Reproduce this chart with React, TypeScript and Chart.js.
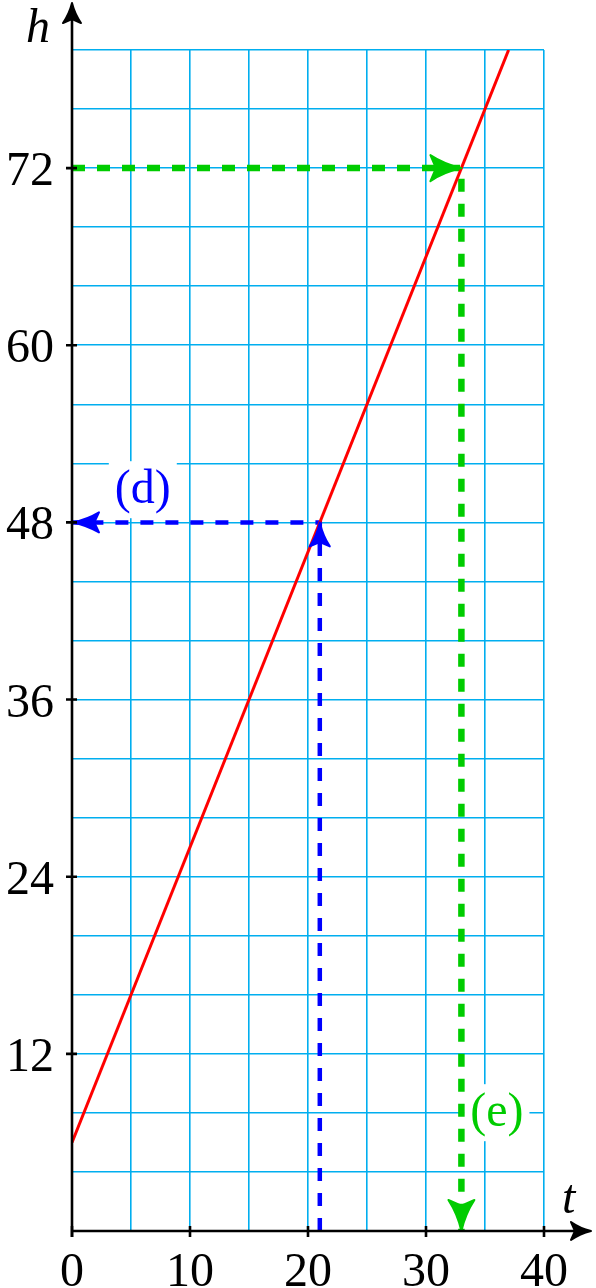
import React, { useEffect, useRef } from "react";
import { Chart, registerables } from "chart.js";

Chart.register(...registerables);

// Data
const lineT = [0, 37];
const lineH = [6, 80];
const dT = [21, 21, 0];
const dH = [0, 48, 48];
const eT = [0, 33, 33];
const eH = [72, 72, 0];
const xTickLabels = [0, 10, 20, 30, 40];
const yTickLabels = [12, 24, 36, 48, 60, 72];
const dLabel = "(d)";
const eLabel = "(e)";
const dLabelPos = { t: 6, h: 49.3 };
const eLabelPos = { t: 36, h: 7.1 };

const GRID = "#00AEEF";
const BLUE = "#0000FF";
const GREEN = "#00CC00";
const SERIF = '"Liberation Serif", "DejaVu Serif", serif';

function drawArrow(
  ctx: CanvasRenderingContext2D,
  x: number,
  y: number,
  angle: number,
  L: number,
  W: number,
  color: string,
  notch = 0.18
) {
  ctx.save();
  ctx.translate(x, y);
  ctx.rotate(angle);
  ctx.beginPath();
  ctx.moveTo(0, 0);
  ctx.quadraticCurveTo(-0.55 * L, 0.3 * W, -L, W);
  ctx.lineTo(-L * (1 - notch), 0);
  ctx.lineTo(-L, -W);
  ctx.quadraticCurveTo(-0.55 * L, -0.3 * W, 0, 0);
  ctx.closePath();
  ctx.fillStyle = color;
  ctx.strokeStyle = color;
  ctx.lineJoin = "round";
  ctx.lineWidth = 2;
  ctx.fill();
  ctx.stroke();
  ctx.restore();
}

const overlay = {
  id: "overlay",
  beforeDatasetsDraw(chart: any) {
    const ctx = chart.ctx as CanvasRenderingContext2D;
    const xs = chart.scales.x;
    const ys = chart.scales.y;
    ctx.save();
    ctx.font = `48px ${SERIF}`;
    ctx.textAlign = "center";
    ctx.textBaseline = "alphabetic";
    const labels: [string, { t: number; h: number }, string][] = [
      [dLabel, dLabelPos, BLUE],
      [eLabel, eLabelPos, GREEN],
    ];
    for (const [txt, pos, col] of labels) {
      const px = xs.getPixelForValue(pos.t);
      const py = ys.getPixelForValue(pos.h);
      const w = ctx.measureText(txt).width;
      ctx.fillStyle = "#ffffff";
      ctx.fillRect(px - w / 2 - 6, py - 42, w + 12, 57);
      ctx.fillStyle = col;
      ctx.fillText(txt, px, py);
    }
    ctx.restore();
  },
  afterDatasetsDraw(chart: any) {
    const ctx = chart.ctx as CanvasRenderingContext2D;
    const xs = chart.scales.x;
    const ys = chart.scales.y;
    const x0 = xs.getPixelForValue(0);
    const y0 = ys.getPixelForValue(0);
    ctx.save();

    // annotation arrowheads
    drawArrow(ctx, xs.getPixelForValue(dT[1]), ys.getPixelForValue(dH[1]), -Math.PI / 2, 24, 10, BLUE);
    drawArrow(ctx, xs.getPixelForValue(dT[2]) + 1, ys.getPixelForValue(dH[2]), Math.PI, 26, 10, BLUE);
    drawArrow(ctx, xs.getPixelForValue(eT[1]), ys.getPixelForValue(eH[1]), 0, 31, 13, GREEN);
    drawArrow(ctx, xs.getPixelForValue(eT[2]), ys.getPixelForValue(eH[2]), Math.PI / 2, 31, 13, GREEN);

    // axes
    ctx.strokeStyle = "#000";
    ctx.lineWidth = 2.6;
    ctx.lineCap = "butt";
    ctx.beginPath();
    ctx.moveTo(x0, y0 + 6);
    ctx.lineTo(x0, 12);
    ctx.moveTo(x0 - 1.3, y0);
    ctx.lineTo(582, y0);
    ctx.stroke();
    drawArrow(ctx, x0, 3, -Math.PI / 2, 20, 9, "#000", 0.2);
    drawArrow(ctx, 591, y0, 0, 20, 9, "#000", 0.2);

    // tick marks
    ctx.lineWidth = 2.6;
    ctx.beginPath();
    for (const v of xTickLabels) {
      const px = xs.getPixelForValue(v);
      ctx.moveTo(px, y0 - 5);
      ctx.lineTo(px, y0 + 6);
    }
    for (const v of yTickLabels) {
      const py = ys.getPixelForValue(v);
      ctx.moveTo(x0 - 6, py);
      ctx.lineTo(x0 + 5, py);
    }
    ctx.stroke();

    // tick labels
    ctx.fillStyle = "#000";
    ctx.font = `48px ${SERIF}`;
    ctx.textBaseline = "alphabetic";
    ctx.textAlign = "center";
    for (const v of xTickLabels) {
      ctx.fillText(String(v), xs.getPixelForValue(v), y0 + 55);
    }
    ctx.textAlign = "right";
    for (const v of yTickLabels) {
      ctx.fillText(String(v), x0 - 18, ys.getPixelForValue(v) + 17);
    }

    // axis titles
    ctx.font = `italic 48px ${SERIF}`;
    ctx.textAlign = "left";
    ctx.fillText("h", 26, 42);
    ctx.fillText("t", 562, 1213);
    ctx.restore();
  },
};

export default function App() {
  const ref = useRef<HTMLCanvasElement | null>(null);
  useEffect(() => {
    if (!ref.current) return;
    const chart = new Chart(ref.current, {
      type: "line",
      data: {
        datasets: [
          {
            label: "h",
            data: lineT.map((t, i) => ({ x: t, y: lineH[i] })),
            borderColor: "#FF0000",
            borderWidth: 3,
            pointRadius: 0,
            tension: 0,
          },
          {
            label: "d",
            data: dT.map((t, i) => ({ x: t, y: dH[i] })),
            borderColor: BLUE,
            borderWidth: 4.5,
            borderDash: [13, 12],
            pointRadius: 0,
            tension: 0,
          },
          {
            label: "e",
            data: eT.map((t, i) => ({ x: t, y: eH[i] })),
            borderColor: GREEN,
            borderWidth: 6.5,
            borderDash: [13, 12],
            pointRadius: 0,
            tension: 0,
          },
        ],
      },
      options: {
        animation: false,
        responsive: true,
        maintainAspectRatio: false,
        layout: { padding: { left: 72, right: 52, top: 50, bottom: 57 } },
        plugins: { legend: { display: false }, tooltip: { enabled: false } },
        scales: {
          x: {
            type: "linear",
            min: 0,
            max: 40,
            ticks: { stepSize: 5, display: false },
            grid: { color: GRID, lineWidth: 1.6, drawTicks: false },
            border: { display: false },
          },
          y: {
            type: "linear",
            min: 0,
            max: 80,
            ticks: { stepSize: 4, display: false },
            grid: { color: GRID, lineWidth: 1.6, drawTicks: false },
            border: { display: false },
          },
        },
      },
      plugins: [overlay],
    });
    return () => chart.destroy();
  }, []);
  return (
    <div style={{ position: "absolute", left: 0, top: 0, width: 596, height: 1288 }}>
      <canvas ref={ref} />
    </div>
  );
}
